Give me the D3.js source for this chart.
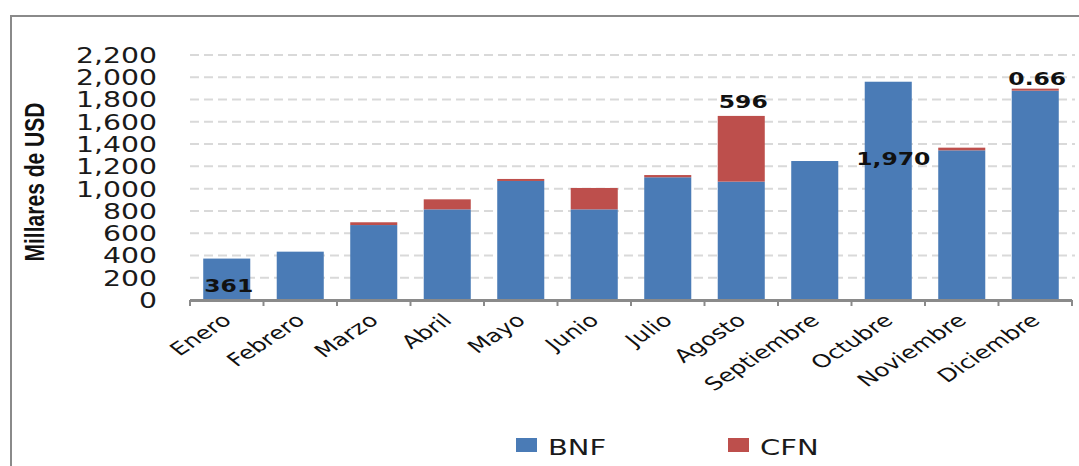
<!DOCTYPE html>
<html>
<head>
<meta charset="utf-8">
<script src="https://cdn.jsdelivr.net/npm/d3@7"></script>
<style>
  body { margin: 0; background: #fff; }
  svg { display: block; }
</style>
</head>
<body>
<svg id="chart" width="1079" height="466"></svg>
<script>
const months = ["Enero", "Febrero", "Marzo", "Abril", "Mayo", "Junio",
  "Julio", "Agosto", "Septiembre", "Octubre", "Noviembre", "Diciembre"];
const bnf = [372, 434, 673, 814, 1069, 814, 1102, 1063, 1248, 1960, 1344, 1880];
const cfn = [0, 0, 25, 90, 18, 192, 20, 590, 0, 0, 24, 18];
const yTicks = [0, 200, 400, 600, 800, 1000, 1200, 1400, 1600, 1800, 2000, 2200];

// data labels as printed on the original chart, with the value level they sit at
const labelMonths = ["Enero", "Agosto", "Octubre", "Diciembre"];
const labelTexts = ["361", "596", "1,970", "0.66"];
const labelLevels = [70, 1720, 1212, 1935];

const series = ["BNF", "CFN"];
const colors = { BNF: "#4a7bb6", CFN: "#bd4f4c" };

const SX = 1.38; // the source picture is stretched sideways
const font = "'DejaVu Sans', Verdana, sans-serif";

const svg = d3.select("#chart");
const margin = { top: 55, right: 7, bottom: 166, left: 190 };
const width = 1079, height = 466;

svg.append("rect")
  .attr("x", 11).attr("y", 16)
  .attr("width", 1100).attr("height", 500)
  .attr("fill", "#fff")
  .attr("stroke", "#8a8a8a")
  .attr("stroke-width", 2);

const rows = months.map((m, i) => ({ month: m, BNF: bnf[i], CFN: cfn[i] }));
const stacked = d3.stack().keys(series)(rows);

const x = d3.scaleBand()
  .domain(months)
  .range([margin.left, width - margin.right])
  .paddingInner(0.36)
  .paddingOuter(0.18);

const y = d3.scaleLinear()
  .domain([0, 2200])
  .range([height - margin.bottom, margin.top]);

// gridlines
svg.append("g")
  .selectAll("line")
  .data(yTicks.filter(d => d > 0))
  .join("line")
  .attr("x1", margin.left)
  .attr("x2", width - 4)
  .attr("y1", d => y(d))
  .attr("y2", d => y(d))
  .attr("stroke", "#d9d9d9")
  .attr("stroke-width", 2)
  .attr("stroke-dasharray", "9,5");

// y axis labels
const yAxis = svg.append("g")
  .attr("transform", `translate(${margin.left},0)`)
  .call(d3.axisLeft(y).tickValues(yTicks).tickSize(0).tickFormat(d3.format(",")));
yAxis.select(".domain").remove();
yAxis.selectAll("text")
  .attr("x", 0)
  .attr("dy", "0.36em")
  .attr("transform", `translate(-33,0) scale(${SX},1)`)
  .attr("font-family", font)
  .attr("font-size", "20.5px")
  .attr("fill", "#1a1a1a");

// bars
svg.append("g")
  .selectAll("g")
  .data(stacked)
  .join("g")
  .attr("fill", d => colors[d.key])
  .selectAll("rect")
  .data(d => d)
  .join("rect")
  .attr("x", d => x(d.data.month))
  .attr("y", d => y(d[1]))
  .attr("width", x.bandwidth())
  .attr("height", d => y(d[0]) - y(d[1]));

// x axis line + ticks at category boundaries
const x0 = x.range()[0];
const boundaries = d3.range(months.length + 1).map(i => x0 + i * x.step());
const axisY = y(0);
svg.append("line")
  .attr("x1", x0).attr("x2", x.range()[1])
  .attr("y1", axisY + 0.5).attr("y2", axisY + 0.5)
  .attr("stroke", "#8a8a8a").attr("stroke-width", 3);
svg.append("g")
  .selectAll("line")
  .data(boundaries)
  .join("line")
  .attr("x1", d => d).attr("x2", d => d)
  .attr("y1", axisY).attr("y2", axisY + 6)
  .attr("stroke", "#8a8a8a").attr("stroke-width", 2);

// x labels
svg.append("g")
  .selectAll("text")
  .data(months)
  .join("text")
  .attr("transform", d => `translate(${x(d) + x.bandwidth() / 2 + 6},${axisY + 22}) scale(${SX},1) rotate(-42)`)
  .attr("text-anchor", "end")
  .attr("font-family", font)
  .attr("font-size", "18px")
  .attr("fill", "#111")
  .text(d => d);

// data labels
svg.append("g")
  .selectAll("text")
  .data(labelMonths)
  .join("text")
  .attr("transform", (d, i) => `translate(${x(d) + x.bandwidth() / 2 + (d === "Octubre" ? 5 : 2)},${y(labelLevels[i])}) scale(${SX},1)`)
  .attr("text-anchor", "middle")
  .attr("font-family", font)
  .attr("font-weight", "bold")
  .attr("font-size", "17px")
  .attr("fill", "#111")
  .text((d, i) => labelTexts[i]);

// y title (condensed look of the original)
svg.append("text")
  .attr("transform", "translate(44,182) rotate(-90)")
  .attr("text-anchor", "middle")
  .attr("font-family", "'Liberation Sans', Arial, sans-serif")
  .attr("font-weight", "bold")
  .attr("font-size", "27px")
  .attr("textLength", 159)
  .attr("lengthAdjust", "spacingAndGlyphs")
  .attr("fill", "#111")
  .text("Millares de USD");

// legend
const legendX = [516, 728];
const legend = svg.append("g")
  .selectAll("g")
  .data(series)
  .join("g")
  .attr("transform", (d, i) => `translate(${legendX[i]},438)`);
legend.append("rect")
  .attr("width", 21).attr("height", 14)
  .attr("fill", d => colors[d]);
legend.append("text")
  .attr("transform", `translate(32,17) scale(${SX},1)`)
  .attr("font-family", font)
  .attr("font-size", "21px")
  .attr("fill", "#1a1a1a")
  .text(d => d);
</script>
</body>
</html>
